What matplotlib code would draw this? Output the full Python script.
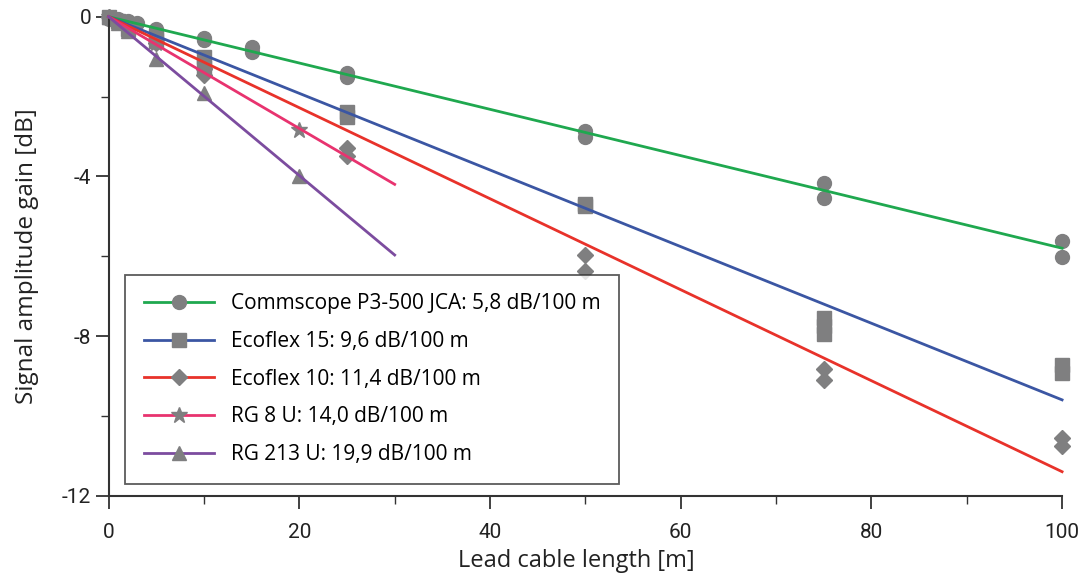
import numpy as np
import matplotlib
matplotlib.use("Agg")
import matplotlib.pyplot as plt
from matplotlib.lines import Line2D
from matplotlib.ticker import MultipleLocator

plt.rcParams['font.family'] = ['Open Sans', 'DejaVu Sans']
plt.rcParams['axes.unicode_minus'] = False

# measured points (gray markers)
comm_x = [0, 0, 1, 2, 3, 5, 5, 10, 10, 15, 15, 25, 25, 50, 50, 75, 75, 100, 100]
comm_y = [0, -0.05, -0.05, -0.1, -0.15, -0.3, -0.4, -0.53, -0.58, -0.75, -0.88, -1.41, -1.5,
          -2.86, -3.02, -4.17, -4.55, -5.63, -6.02]
eco15_x = [0, 1, 2, 5, 5, 10, 10, 25, 25, 50, 50, 75, 75, 75, 100, 100]
eco15_y = [0, -0.1, -0.3, -0.5, -0.6, -1.0, -1.25, -2.38, -2.5, -4.7, -4.75, -7.55, -7.75, -7.95,
           -8.72, -8.92]
eco10_x = [0, 1, 2, 5, 10, 10, 25, 25, 50, 50, 75, 75, 100, 100]
eco10_y = [0, -0.1, -0.2, -0.65, -1.3, -1.45, -3.29, -3.49, -5.98, -6.36, -8.82, -9.1, -10.55, -10.75]
rg8_x = [0, 1, 2, 5, 10, 20]
rg8_y = [0, -0.1, -0.25, -0.65, -1.35, -2.84]
rg213_x = [0, 1, 2, 5, 10, 20]
rg213_y = [0, -0.15, -0.35, -1.07, -1.9, -3.98]

# fitted lines
fit_x = [[0, 100], [0, 100], [0, 100], [0, 30], [0, 30]]
fit_y = [[0, -5.8], [0, -9.6], [0, -11.4], [0, -4.2], [0, -5.97]]

labels = ['Commscope P3-500 JCA: 5,8 dB/100 m', 'Ecoflex 15: 9,6 dB/100 m',
          'Ecoflex 10: 11,4 dB/100 m', 'RG 8 U: 14,0 dB/100 m', 'RG 213 U: 19,9 dB/100 m']
colors = ['#1fa84f', '#3b56a3', '#e8322a', '#e8336f', '#7c4c9f']
markers = ['o', 's', 'D', '*', '^']
msizes = [10, 10, 8, 12, 10]
gray = '#7f7f80'

fig = plt.figure(figsize=(10.81, 5.77), dpi=100)
ax = fig.add_axes([0.1005, 0.141, 0.882, 0.83])

pts = [(comm_x, comm_y), (eco15_x, eco15_y), (eco10_x, eco10_y), (rg8_x, rg8_y), (rg213_x, rg213_y)]
for (px, py), m, ms in zip(pts, markers, msizes):
    ax.plot(px, py, ls='none', marker=m, ms=ms, color=gray, mec=gray, clip_on=False, zorder=2)

for lx, ly, c in zip(fit_x, fit_y, colors):
    ax.plot(lx, ly, color=c, lw=2, clip_on=False, zorder=3)

ax.set_xlim(0, 100)
ax.set_ylim(-12, 0)
ax.xaxis.set_major_locator(MultipleLocator(20))
ax.xaxis.set_minor_locator(MultipleLocator(10))
ax.yaxis.set_major_locator(MultipleLocator(4))
ax.yaxis.set_minor_locator(MultipleLocator(2))
ax.spines['top'].set_visible(False)
ax.spines['right'].set_visible(False)
for s in ['left', 'bottom']:
    ax.spines[s].set_linewidth(1.5)
    ax.spines[s].set_color('#333333')
ax.tick_params(which='major', direction='out', length=9.5, width=1.3, color='#333333',
               labelsize=15, labelcolor='#222222')
ax.tick_params(which='minor', direction='out', length=6, width=1.0, color='#333333')
ax.tick_params(axis='x', pad=10)
ax.tick_params(axis='y', pad=3)
for lab in ax.get_xticklabels() + ax.get_yticklabels():
    lab.set_fontfamily('Roboto')

ax.set_xlabel('Lead cable length [m]', fontsize=17, color='#222222')
ax.set_ylabel('Signal amplitude gain [dB]', fontsize=17.5, color='#222222')
ax.xaxis.set_label_coords(0.49, -0.112)
ax.yaxis.set_label_coords(-0.073, 0.5)

handles = [Line2D([], [], color=c, lw=2, marker=m, ms=ms, mfc=gray, mec=gray)
           for c, m, ms in zip(colors, markers, msizes)]
leg = ax.legend(handles, labels, loc='lower left', bbox_to_anchor=(0.017, 0.025),
                fontsize=15, frameon=True, fancybox=False, edgecolor='#333333',
                handlelength=3.4, labelspacing=0.8, borderpad=0.9, handletextpad=0.8,
                borderaxespad=0)
leg.get_frame().set_linewidth(1.3)

fig.savefig('out.png', dpi=100)
